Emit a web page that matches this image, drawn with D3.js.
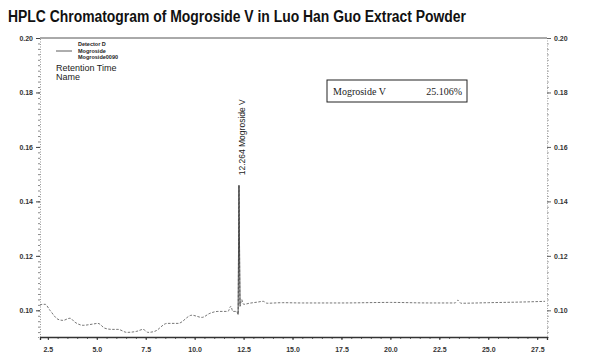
<!DOCTYPE html>
<html><head><meta charset="utf-8">
<script src="https://cdn.jsdelivr.net/npm/d3@7"></script>
<style>body{margin:0;background:#fff;}svg{display:block;}</style>
</head><body><svg id="c" width="601" height="363"></svg>
<script>
const title = "HPLC Chromatogram of Mogroside V in Luo Han Guo Extract Powder";
const xTicks = [2.5, 5.0, 7.5, 10.0, 12.5, 15.0, 17.5, 20.0, 22.5, 25.0, 27.5];
const yTicks = [0.10, 0.12, 0.14, 0.16, 0.18, 0.20];
const legendLines = ["Detector D", "Mogroside", "Mogroside0090"];
const legendLabels = ["Retention Time", "Name"];
const peakTime = 12.264;
const peakName = "Mogroside V";
const resultName = "Mogroside V";
const resultValue = "25.106%";
// retention time (min)
const times = [2.10, 2.20, 2.36, 2.61, 3.02, 3.27, 3.63, 3.89, 4.30, 4.76, 5.06, 5.42, 5.78, 6.08, 6.54, 7.05, 7.36, 7.62, 7.97, 8.59, 9.15, 9.86, 10.37, 10.78, 11.19, 11.70, 11.85, 11.95, 12.15, 12.22, 12.264, 12.32, 12.40, 12.50, 12.80, 13.20, 13.50, 13.70, 14.50, 15.50, 17.50, 20.00, 22.00, 23.30, 23.45, 23.60, 25.00, 27.00, 27.90];
// absorbance (AU)
const signal = [0.1018, 0.1022, 0.1022, 0.1000, 0.0967, 0.0963, 0.0971, 0.0956, 0.0945, 0.0949, 0.0952, 0.0934, 0.0930, 0.0930, 0.0919, 0.0923, 0.0930, 0.0919, 0.0923, 0.0952, 0.0952, 0.0982, 0.0974, 0.0989, 0.0996, 0.0996, 0.1015, 0.0996, 0.0996, 0.0985, 0.1459, 0.1015, 0.1040, 0.1022, 0.1026, 0.1030, 0.1033, 0.1026, 0.1028, 0.1027, 0.1027, 0.1029, 0.1027, 0.1027, 0.1037, 0.1026, 0.1028, 0.1031, 0.1033];

const svg = d3.select("#c");
const L = 40, R = 547, T = 38, B = 337;
const x = d3.scaleLinear().domain([2.1, 28.0]).range([L, R]);
const y = d3.scaleLinear().domain([0.0902, 0.2]).range([B, T]);

svg.append("text").attr("x", 8).attr("y", 22).text(title)
  .attr("font-family", "Liberation Sans, Arial, sans-serif").attr("font-weight", "bold")
  .attr("font-size", 16).attr("fill", "#111")
  .attr("textLength", 458).attr("lengthAdjust", "spacingAndGlyphs");

const tickFont = g => g.selectAll("text").attr("font-family", "Liberation Sans, Arial, sans-serif")
  .attr("font-size", 7).attr("font-weight", "bold").attr("fill", "#333");

// minor ticks
const yMinor = d3.range(0.092, 0.2001, 0.002);
const xMinor = d3.range(2.5, 28.0, 0.5);
svg.append("g").attr("transform", `translate(${L},0)`)
  .call(d3.axisLeft(y).tickValues(yMinor).tickSize(2).tickFormat(""))
  .call(g => g.select(".domain").attr("stroke", "#999").attr("stroke-dasharray", "1,1.5"))
  .call(g => g.selectAll("line").attr("stroke", "#888"));
svg.append("g").attr("transform", `translate(${R},0)`)
  .call(d3.axisRight(y).tickValues(yMinor).tickSize(2).tickFormat(""))
  .call(g => g.select(".domain").attr("stroke", "#aaa").attr("stroke-dasharray", "1,1.5"))
  .call(g => g.selectAll("line").attr("stroke", "#aaa"));
svg.append("g").attr("transform", `translate(0,${B})`)
  .call(d3.axisBottom(x).tickValues(xMinor).tickSize(2).tickFormat(""))
  .call(g => g.select(".domain").remove())
  .call(g => g.selectAll("line").attr("stroke", "#666"));

// major axes
svg.append("g").attr("transform", `translate(${L},0)`)
  .call(d3.axisLeft(y).tickValues(yTicks).tickSize(4).tickPadding(3).tickFormat(d3.format(".2f")))
  .call(g => g.select(".domain").remove())
  .call(g => g.selectAll("line").attr("stroke", "#444"))
  .call(tickFont);
svg.append("g").attr("transform", `translate(${R},0)`)
  .call(d3.axisRight(y).tickValues(yTicks).tickSize(4).tickPadding(3).tickFormat(d3.format(".2f")))
  .call(g => g.select(".domain").remove())
  .call(g => g.selectAll("line").attr("stroke", "#666"))
  .call(tickFont);
svg.append("g").attr("transform", `translate(0,${B})`)
  .call(d3.axisBottom(x).tickValues(xTicks).tickSize(3).tickPadding(7).tickFormat(d3.format(".1f")))
  .call(g => g.select(".domain").attr("stroke", "#333").attr("stroke-width", 1.3))
  .call(g => g.selectAll("line").attr("stroke", "#333"))
  .call(g => g.selectAll("text").attr("font-size", 7.5))
  .call(tickFont);
// top border
svg.append("line").attr("x1", L).attr("x2", R).attr("y1", y(0.2)).attr("y2", y(0.2))
  .attr("stroke", "#555").attr("stroke-width", 1);

// trace
const line = d3.line().x((d, i) => x(times[i])).y(d => y(d)).curve(d3.curveMonotoneX);
svg.append("path").attr("d", line(signal)).attr("fill", "none")
  .attr("stroke", "#777").attr("stroke-width", 1).attr("stroke-dasharray", "2.5,1.5");
// peak stroke darker
const pk = times.indexOf(peakTime);
svg.append("path").attr("d", d3.line().x((d, i) => x(times[pk - 1 + i])).y(d => y(d))(signal.slice(pk - 1, pk + 2)))
  .attr("fill", "none").attr("stroke", "#444").attr("stroke-width", 0.9);

// peak label
svg.append("text")
  .attr("transform", `translate(${x(peakTime) + 6},${y(signal[pk]) - 10}) rotate(-90)`)
  .attr("font-family", "Liberation Sans, Arial, sans-serif").attr("font-size", 8.5).attr("fill", "#222")
  .text(peakTime.toFixed(3) + "  " + peakName);

// legend
const lf = "Liberation Sans, Arial, sans-serif";
svg.append("line").attr("x1", 56).attr("x2", 72).attr("y1", 51).attr("y2", 51).attr("stroke", "#333").attr("stroke-width", 0.8);
legendLines.forEach((t, i) => svg.append("text").attr("x", 78).attr("y", 46 + i * 6.5).text(t)
  .attr("font-family", lf).attr("font-size", 5.5).attr("font-weight", "bold").attr("fill", "#222"));
legendLabels.forEach((t, i) => svg.append("text").attr("x", 56).attr("y", 71 + i * 9).text(t)
  .attr("font-family", lf).attr("font-size", 9).attr("fill", "#222"));

// result box
svg.append("rect").attr("x", 327).attr("y", 80).attr("width", 140).attr("height", 22)
  .attr("fill", "#fff").attr("stroke", "#222").attr("stroke-width", 1);
svg.append("text").attr("x", 333).attr("y", 95).text(resultName)
  .attr("font-family", "Liberation Serif, Times New Roman, serif").attr("font-size", 10).attr("fill", "#222");
svg.append("text").attr("x", 462).attr("y", 95).attr("text-anchor", "end").text(resultValue)
  .attr("font-family", "Liberation Serif, Times New Roman, serif").attr("font-size", 10).attr("fill", "#222");
</script></body></html>
